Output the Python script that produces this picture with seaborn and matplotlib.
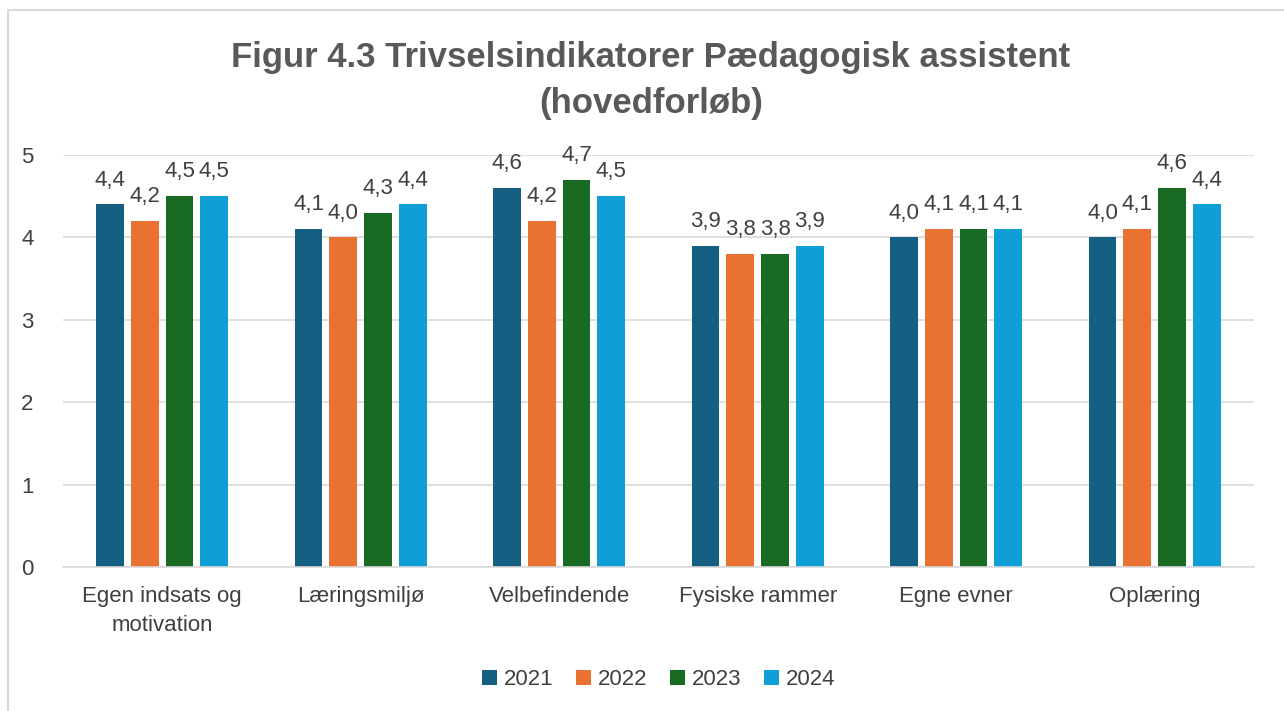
import pandas as pd
import matplotlib.pyplot as plt
import seaborn as sns
from matplotlib.patches import Rectangle

categories = ["Egen indsats og\nmotivation", "Læringsmiljø", "Velbefindende",
              "Fysiske rammer", "Egne evner", "Oplæring"]
years = ["2021", "2022", "2023", "2024"]
v2021 = [4.4, 4.1, 4.6, 3.9, 4.0, 4.0]
v2022 = [4.2, 4.0, 4.2, 3.8, 4.1, 4.1]
v2023 = [4.5, 4.3, 4.7, 3.8, 4.1, 4.6]
v2024 = [4.5, 4.4, 4.5, 3.9, 4.1, 4.4]
colors = ["#156082", "#E97132", "#196B24", "#0F9ED5"]

rows = []
for year, vals in zip(years, [v2021, v2022, v2023, v2024]):
    for cat, v in zip(categories, vals):
        rows.append({"Kategori": cat, "År": year, "Værdi": v})
df = pd.DataFrame(rows)

sns.set_style("white")
plt.rcParams["font.family"] = ["Liberation Sans", "DejaVu Sans"]
text_color = "#595959"

fig = plt.figure(figsize=(12.84, 7.11), dpi=100)
ax = fig.add_axes([0.049, 0.2025, 0.9276, 0.5795])

sns.barplot(data=df, x="Kategori", y="Værdi", hue="År", palette=colors,
            width=0.7, gap=0.2, ax=ax, saturation=1, linewidth=0, legend=True)

for cont in ax.containers:
    ax.bar_label(cont, labels=[f"{b.get_height():.1f}".replace(".", ",") for b in cont],
                 padding=10, fontsize=16, color="#404040")

ax.set_ylim(0, 5)
ax.set_xlim(-0.5, 5.5)
ax.set_yticks([0, 1, 2, 3, 4, 5])
ax.yaxis.grid(True, color="#d9d9d9", linewidth=1.2)
ax.set_axisbelow(True)
for s in ["top", "right", "left"]:
    ax.spines[s].set_visible(False)
ax.spines["bottom"].set_color("#d9d9d9")
ax.spines["bottom"].set_linewidth(1.2)
ax.tick_params(axis="both", length=0, labelsize=16, colors="#404040")
ax.tick_params(axis="y", pad=30)
ax.tick_params(axis="x", pad=14)
for lbl in ax.get_yticklabels():
    lbl.set_horizontalalignment("left")
for lbl in ax.get_xticklabels():
    lbl.set_linespacing(1.45)
ax.set_xlabel("")
ax.set_ylabel("")

ax.legend(loc="center", bbox_to_anchor=(0.5, -0.274), ncol=4, frameon=False,
          fontsize=16, handlelength=0.7, handleheight=0.7, handletextpad=0.3,
          columnspacing=1.0, labelcolor="#404040")

fig.text(0.507, 0.887, "Figur 4.3 Trivselsindikatorer Pædagogisk assistent\n(hovedforløb)",
         ha="center", va="center", fontsize=25, fontweight="bold", color=text_color,
         linespacing=1.5)

fig.patches.append(Rectangle((8 / 1284, -0.01), 1.02, 1 - 10 / 711 + 0.01,
                             transform=fig.transFigure, fill=False,
                             edgecolor="#d9d9d9", linewidth=1.5))

fig.savefig("out.png", dpi=100)
